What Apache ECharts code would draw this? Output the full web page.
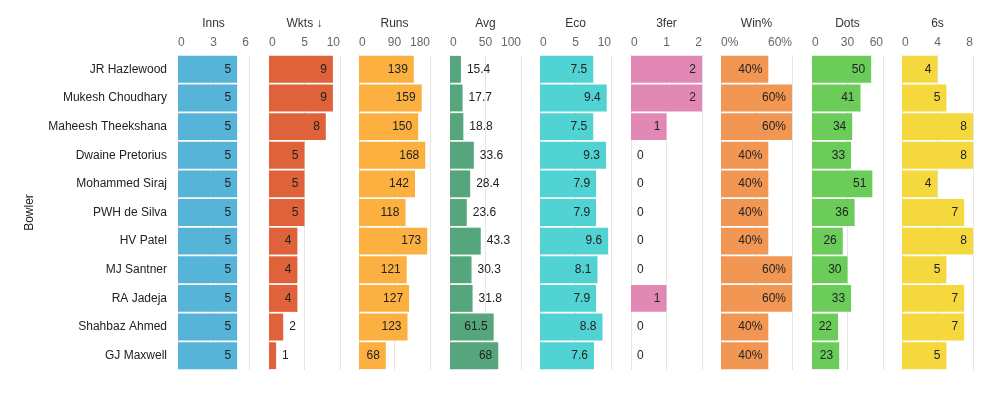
<!DOCTYPE html>
<html>
<head>
<meta charset="utf-8">
<script src="https://cdn.jsdelivr.net/npm/echarts@6/dist/echarts.min.js"></script>
<style>
html,body{margin:0;padding:0;background:#fff;}
#c{width:1004px;height:393px;}
</style>
</head>
<body>
<div id="c"></div>
<script>
const bowlers = ['JR Hazlewood','Mukesh Choudhary','Maheesh Theekshana','Dwaine Pretorius','Mohammed Siraj','PWH de Silva','HV Patel','MJ Santner','RA Jadeja','Shahbaz Ahmed','GJ Maxwell'];
const inns = [5,5,5,5,5,5,5,5,5,5,5];
const wkts = [9,9,8,5,5,5,4,4,4,2,1];
const runs = [139,159,150,168,142,118,173,121,127,123,68];
const avg = [15.4,17.7,18.8,33.6,28.4,23.6,43.3,30.3,31.8,61.5,68];
const eco = [7.5,9.4,7.5,9.3,7.9,7.9,9.6,8.1,7.9,8.8,7.6];
const threeFer = [2,2,1,0,0,0,0,0,1,0,0];
const winPct = [40,60,60,40,40,40,40,60,60,40,40];
const dots = [50,41,34,33,51,36,26,30,33,22,23];
const sixes = [4,5,8,8,4,7,8,5,7,7,5];

const panelTitles = ['Inns','Wkts \u2193','Runs','Avg','Eco','3fer','Win%','Dots','6s'];
const panelData = [inns,wkts,runs,avg,eco,threeFer,winPct,dots,sixes];
const axisMax = [6,10,180,100,10,2,60,60,8];
const axisStep = [3,5,90,50,5,1,30,30,4];
const colors = ['#57b4d9','#e0623a','#fcb040','#55a67c','#52d3d3','#e189b4','#f29654','#6bcc5a','#f4d83e'];

const FONT = 'Liberation Sans';
const PANEL_W = 71;
const ctx = document.createElement('canvas').getContext('2d');
ctx.font = '12px "' + FONT + '"';
function textW(s){ return ctx.measureText(s).width; }

const grids=[],xAxes=[],yAxes=[],series=[];
for(let i=0;i<9;i++){
  const isPct = i===6;
  const fmt = v => isPct ? v+'%' : String(v);
  grids.push({left:178+Math.round(i*90.5),top:55,width:PANEL_W,height:315,containLabel:false});
  xAxes.push({
    type:'value',gridIndex:i,position:'top',min:0,max:axisMax[i],interval:axisStep[i],
    name:panelTitles[i],nameLocation:'middle',nameGap:25,
    nameTextStyle:{color:'#333',fontSize:12,fontFamily:FONT},
    axisLine:{show:false},axisTick:{show:false},
    axisLabel:{color:'#666',fontSize:12,fontFamily:FONT,margin:6,
      alignMinLabel:'left',alignMaxLabel:'right',showMinLabel:true,showMaxLabel:true,
      formatter:function(v){ if(isPct){ return (v===0||v===60)? v+'%' : ''; } return String(v);} },
    splitLine:{show:true,lineStyle:{color:'#e6e6e6',width:1}}
  });
  yAxes.push({
    type:'category',gridIndex:i,data:bowlers,inverse:true,
    axisLine:{show:false},axisTick:{show:false},
    axisLabel:{show:i===0,color:'#222',fontSize:12,fontFamily:FONT,margin:11},
    name:i===0?'Bowler':'',nameLocation:'middle',nameGap:142,nameRotate:90,
    nameTextStyle:{color:'#222',fontSize:12,fontFamily:FONT}
  });
  const mx = axisMax[i];
  series.push({
    type:'bar',xAxisIndex:i,yAxisIndex:i,barCategoryGap:'6%',
    itemStyle:{color:colors[i]},
    data:panelData[i].map(v=>{
      const barPx = v/mx*PANEL_W;
      const inside = barPx >= textW(fmt(v)) + 11;
      return {value:v,label:{position:inside?'insideRight':'right'}};
    }),
    label:{show:true,color:'#222',fontSize:12,fontFamily:FONT,distance:6,
      formatter:function(p){ return fmt(p.value); }},
    animation:false
  });
}
const chart = echarts.init(document.getElementById('c'),null,{renderer:'canvas'});
chart.setOption({backgroundColor:'#fff',animation:false,grid:grids,xAxis:xAxes,yAxis:yAxes,series:series});
</script>
</body>
</html>
